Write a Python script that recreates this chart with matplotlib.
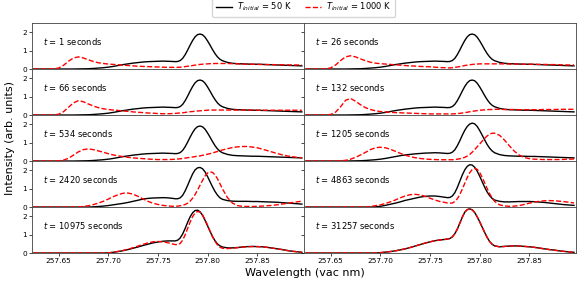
import matplotlib
matplotlib.use("Agg")
import matplotlib.pyplot as plt
import numpy as np

# sample positions (vac nm): coarse, fine round the main line, coarse
wavelength = np.concatenate([
    np.arange(257.625, 257.7651, 0.005),
    np.arange(257.7675, 257.8126, 0.0025),
    np.arange(257.815, 257.8951, 0.005),
])

# T_initial = 50 K
cold_early = ([0] * 9 + [0.005, 0.01, 0.015, 0.03, 0.05, 0.07, 0.10, 0.14, 0.19, 0.24, 0.28, 0.32, 0.35, 0.38, 0.40, 0.41, 0.42, 0.43, 0.42, 0.41]
              + [0.40, 0.41, 0.46, 0.58, 0.78, 1.03, 1.30, 1.55, 1.75, 1.87, 1.90, 1.86, 1.73, 1.53, 1.30, 1.06, 0.84, 0.66, 0.53]
              + [0.45, 0.36, 0.31, 0.29, 0.28, 0.27, 0.26, 0.26, 0.25, 0.24, 0.23, 0.22, 0.21, 0.20, 0.19, 0.18, 0.17])
cold_1205 = ([0] * 9 + [0.005, 0.01, 0.015, 0.03, 0.05, 0.07, 0.10, 0.14, 0.19, 0.24, 0.29, 0.33, 0.36, 0.39, 0.41, 0.43, 0.44, 0.45, 0.44, 0.42]
             + [0.41, 0.42, 0.48, 0.61, 0.83, 1.10, 1.40, 1.67, 1.88, 2.01, 2.06, 2.02, 1.88, 1.66, 1.41, 1.15, 0.90, 0.70, 0.55]
             + [0.45, 0.35, 0.30, 0.28, 0.27, 0.26, 0.26, 0.25, 0.25, 0.24, 0.23, 0.22, 0.21, 0.20, 0.19, 0.18, 0.17])
cold_2420 = ([0] * 12 + [0.01, 0.03, 0.05, 0.08, 0.12, 0.16, 0.20, 0.25, 0.31, 0.37, 0.43, 0.47, 0.49, 0.50, 0.51, 0.50, 0.47]
             + [0.45, 0.45, 0.50, 0.64, 0.88, 1.18, 1.50, 1.80, 2.02, 2.13, 2.15, 2.08, 1.91, 1.66, 1.38, 1.10, 0.85, 0.65, 0.50]
             + [0.42, 0.35, 0.32, 0.31, 0.31, 0.31, 0.30, 0.30, 0.29, 0.28, 0.27, 0.26, 0.24, 0.22, 0.20, 0.18, 0.16])
cold_4863 = ([0] * 14 + [0.01, 0.04, 0.09, 0.15, 0.21, 0.28, 0.36, 0.42, 0.48, 0.54, 0.58, 0.60, 0.60, 0.57, 0.53]
             + [0.51, 0.52, 0.60, 0.78, 1.06, 1.40, 1.74, 2.02, 2.21, 2.30, 2.28, 2.16, 1.95, 1.68, 1.38, 1.08, 0.82, 0.62, 0.47]
             + [0.38, 0.31, 0.28, 0.28, 0.29, 0.30, 0.30, 0.30, 0.29, 0.27, 0.25, 0.22, 0.19, 0.16, 0.13, 0.11, 0.09])
cold_10975 = ([0] * 15 + [0.01, 0.04, 0.08, 0.13, 0.19, 0.26, 0.33, 0.41, 0.48, 0.55, 0.60, 0.64, 0.66, 0.66]
              + [0.66, 0.70, 0.82, 1.04, 1.34, 1.67, 1.97, 2.19, 2.31, 2.33, 2.24, 2.05, 1.78, 1.48, 1.18, 0.90, 0.67, 0.50, 0.39]
              + [0.33, 0.28, 0.28, 0.30, 0.33, 0.35, 0.36, 0.35, 0.34, 0.31, 0.27, 0.23, 0.19, 0.14, 0.10, 0.07, 0.04])
cold_31257 = ([0] * 15 + [0.02, 0.05, 0.08, 0.12, 0.17, 0.23, 0.30, 0.38, 0.46, 0.54, 0.61, 0.67, 0.71, 0.74]
              + [0.76, 0.79, 0.88, 1.05, 1.30, 1.62, 1.95, 2.22, 2.36, 2.40, 2.35, 2.20, 1.97, 1.70, 1.41, 1.12, 0.85, 0.63, 0.48]
              + [0.39, 0.34, 0.36, 0.38, 0.39, 0.38, 0.36, 0.34, 0.31, 0.27, 0.23, 0.19, 0.16, 0.12, 0.09, 0.06, 0.04])

# T_initial = 1000 K
hot_1 = ([0, 0, 0, 0, 0.01, 0.05, 0.20, 0.42, 0.60, 0.66, 0.60, 0.50, 0.41, 0.34, 0.30, 0.27, 0.25, 0.23, 0.21, 0.19, 0.17, 0.15, 0.14, 0.13, 0.12, 0.11, 0.10, 0.09, 0.09]
         + [0.09, 0.09, 0.10, 0.11, 0.13, 0.15, 0.17, 0.19, 0.21, 0.23, 0.25, 0.26, 0.27, 0.28, 0.29, 0.29, 0.30, 0.30, 0.30]
         + [0.30, 0.30, 0.29, 0.28, 0.27, 0.26, 0.26, 0.25, 0.25, 0.24, 0.24, 0.23, 0.23, 0.22, 0.22, 0.22, 0.22])
hot_26 = ([0, 0, 0, 0, 0.01, 0.06, 0.22, 0.46, 0.66, 0.72, 0.66, 0.55, 0.45, 0.37, 0.32, 0.29, 0.27, 0.25, 0.23, 0.21, 0.19, 0.17, 0.16, 0.14, 0.13, 0.12, 0.10, 0.08, 0.07]
          + [0.06, 0.06, 0.07, 0.09, 0.11, 0.13, 0.16, 0.19, 0.21, 0.23, 0.25, 0.26, 0.27, 0.28, 0.28, 0.28, 0.28, 0.28, 0.28]
          + [0.28, 0.28, 0.28, 0.27, 0.27, 0.27, 0.26, 0.26, 0.26, 0.25, 0.25, 0.24, 0.24, 0.23, 0.22, 0.22, 0.22])
hot_66 = ([0, 0, 0, 0, 0, 0.04, 0.18, 0.42, 0.66, 0.78, 0.72, 0.60, 0.49, 0.40, 0.34, 0.30, 0.27, 0.25, 0.22, 0.20, 0.17, 0.15, 0.13, 0.11, 0.10, 0.08, 0.07, 0.07, 0.08]
          + [0.09, 0.10, 0.11, 0.12, 0.14, 0.16, 0.18, 0.19, 0.21, 0.22, 0.23, 0.24, 0.25, 0.26, 0.27, 0.27, 0.27, 0.27, 0.27]
          + [0.27, 0.27, 0.27, 0.27, 0.27, 0.27, 0.27, 0.26, 0.26, 0.26, 0.26, 0.26, 0.26, 0.26, 0.26, 0.26, 0.26])
hot_132 = ([0, 0, 0, 0, 0, 0.03, 0.16, 0.45, 0.80, 0.90, 0.75, 0.56, 0.40, 0.30, 0.23, 0.19, 0.17, 0.15, 0.13, 0.12, 0.11, 0.10, 0.09, 0.08, 0.07, 0.06, 0.06, 0.06, 0.06]
           + [0.06, 0.06, 0.06, 0.07, 0.08, 0.09, 0.11, 0.13, 0.15, 0.18, 0.20, 0.22, 0.24, 0.26, 0.27, 0.28, 0.29, 0.30, 0.30]
           + [0.31, 0.31, 0.30, 0.30, 0.30, 0.29, 0.29, 0.29, 0.29, 0.29, 0.30, 0.30, 0.30, 0.31, 0.31, 0.31, 0.31])
hot_534 = ([0, 0, 0, 0, 0, 0.01, 0.05, 0.15, 0.32, 0.50, 0.62, 0.66, 0.62, 0.55, 0.48, 0.40, 0.33, 0.28, 0.24, 0.20, 0.17, 0.15, 0.13, 0.11, 0.09, 0.08, 0.08, 0.08, 0.09]
           + [0.10, 0.11, 0.12, 0.14, 0.16, 0.18, 0.20, 0.22, 0.24, 0.26, 0.28, 0.31, 0.34, 0.37, 0.40, 0.44, 0.48, 0.52, 0.56]
           + [0.60, 0.67, 0.73, 0.77, 0.79, 0.79, 0.76, 0.72, 0.65, 0.57, 0.49, 0.41, 0.34, 0.28, 0.24, 0.20, 0.18])
hot_1205 = ([0] * 7 + [0.01, 0.04, 0.10, 0.20, 0.33, 0.47, 0.62, 0.72, 0.75, 0.72, 0.64, 0.53, 0.42, 0.32, 0.24, 0.18, 0.14, 0.11, 0.09, 0.08, 0.07, 0.07]
            + [0.07, 0.07, 0.07, 0.08, 0.10, 0.12, 0.16, 0.20, 0.27, 0.36, 0.48, 0.62, 0.77, 0.92, 1.08, 1.23, 1.36, 1.46, 1.51]
            + [1.51, 1.40, 1.14, 0.82, 0.53, 0.32, 0.19, 0.13, 0.10, 0.09, 0.08, 0.08, 0.08, 0.08, 0.09, 0.10, 0.11])
hot_2420 = ([0] * 9 + [0.01, 0.03, 0.07, 0.13, 0.21, 0.31, 0.43, 0.56, 0.67, 0.75, 0.76, 0.70, 0.58, 0.44, 0.31, 0.21, 0.14, 0.09, 0.06, 0.04]
            + [0.04, 0.05, 0.07, 0.09, 0.14, 0.21, 0.32, 0.48, 0.68, 0.93, 1.19, 1.45, 1.68, 1.85, 1.91, 1.88, 1.75, 1.54, 1.27]
            + [0.99, 0.52, 0.22, 0.08, 0.04, 0.03, 0.03, 0.04, 0.05, 0.07, 0.09, 0.12, 0.16, 0.20, 0.24, 0.28, 0.32])
hot_4863 = ([0] * 12 + [0.01, 0.03, 0.07, 0.12, 0.19, 0.28, 0.38, 0.50, 0.60, 0.67, 0.69, 0.66, 0.58, 0.48, 0.38, 0.30, 0.25]
            + [0.22, 0.21, 0.22, 0.30, 0.45, 0.68, 0.97, 1.29, 1.61, 1.87, 2.04, 2.10, 2.05, 1.88, 1.62, 1.32, 1.01, 0.73, 0.49]
            + [0.31, 0.12, 0.06, 0.04, 0.05, 0.08, 0.14, 0.21, 0.27, 0.31, 0.34, 0.35, 0.34, 0.32, 0.29, 0.26, 0.22])
hot_10975 = ([0] * 15 + [0.01, 0.04, 0.09, 0.14, 0.21, 0.29, 0.38, 0.47, 0.55, 0.61, 0.63, 0.61, 0.56, 0.49]
             + [0.46, 0.46, 0.52, 0.70, 0.99, 1.34, 1.68, 1.98, 2.18, 2.26, 2.22, 2.07, 1.82, 1.52, 1.20, 0.89, 0.64, 0.44, 0.32]
             + [0.26, 0.24, 0.26, 0.29, 0.32, 0.34, 0.35, 0.35, 0.34, 0.31, 0.27, 0.23, 0.19, 0.14, 0.10, 0.07, 0.04])
hot_31257 = list(cold_31257)  # the two runs have converged by then

times = [1, 26, 66, 132, 534, 1205, 2420, 4863, 10975, 31257]
cold_runs = [cold_early, cold_early, cold_early, cold_early, cold_early,
             cold_1205, cold_2420, cold_4863, cold_10975, cold_31257]
hot_runs = [hot_1, hot_26, hot_66, hot_132, hot_534,
            hot_1205, hot_2420, hot_4863, hot_10975, hot_31257]

fig, axes = plt.subplots(5, 2, sharex=True, sharey=True, figsize=(5.82, 2.84), dpi=100)
fig.subplots_adjust(left=0.0545, right=0.9897, top=0.919, bottom=0.109, hspace=0, wspace=0)

for ax, t, cold, hot in zip(axes.flat, times, cold_runs, hot_runs):
    ax.plot(wavelength, cold, color="black", lw=1.0, label=r"$T_{initial}$ = 50 K")
    ax.plot(wavelength, hot, color="red", ls="--", lw=1.0, label=r"$T_{initial}$ = 1000 K")
    ax.text(0.04, 0.6, r"$t$ = %d seconds" % t, transform=ax.transAxes,
            fontsize=6, va="center", ha="left")
    ax.set_xlim(257.623, 257.897)
    ax.set_ylim(0, 2.5)
    ax.set_yticks([0, 1, 2])
    ax.set_xticks([257.65, 257.70, 257.75, 257.80, 257.85])
    ax.tick_params(labelsize=5.3, length=2, width=0.5, pad=1.5)
    for sp in ax.spines.values():
        sp.set_linewidth(0.6)
        sp.set_color("0.25")

handles, labels = axes[0, 0].get_legend_handles_labels()
fig.legend(handles, labels, loc="lower center", bbox_to_anchor=(0.522, 0.927),
           ncol=2, fontsize=6, frameon=True, borderpad=0.4, columnspacing=1.5,
           handletextpad=0.6)

fig.text(0.523, 0.04, "Wavelength (vac nm)", ha="center", va="center", fontsize=8)
fig.text(0.017, 0.514, "Intensity (arb. units)", ha="center", va="center",
         rotation=90, fontsize=8)

fig.savefig("out.png", dpi=100)
